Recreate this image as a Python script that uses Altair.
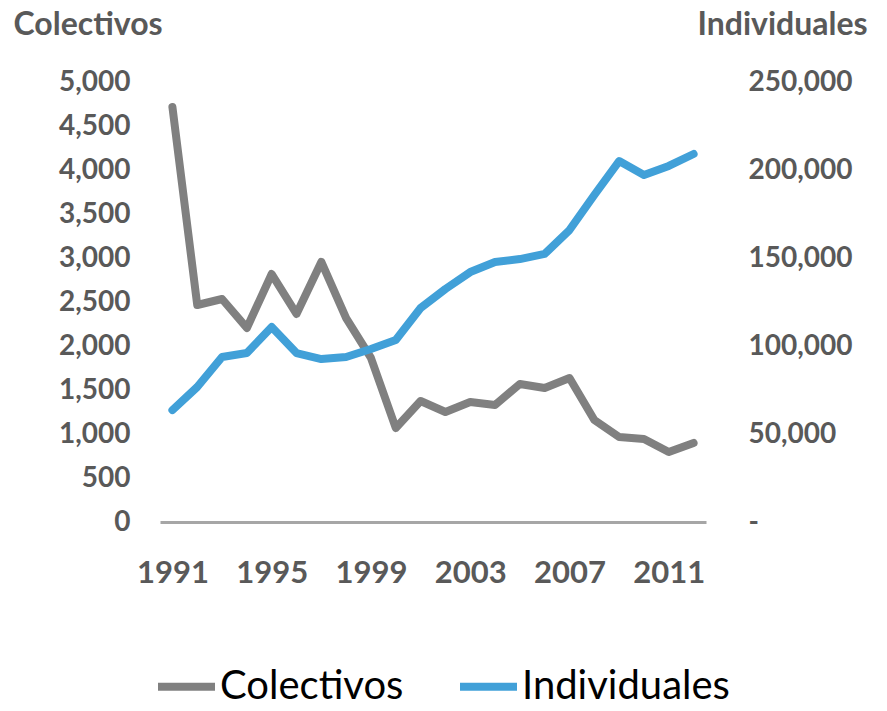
import altair as alt
import pandas as pd

years = list(range(1991, 2013))
colectivos = [4716, 2466, 2534, 2205, 2818, 2364, 2955, 2318, 1864, 1068, 1375,
              1250, 1364, 1330, 1568, 1523, 1636, 1159, 966, 943, 795, 898]
individuales = [63600, 76700, 93750, 96000, 110800, 96000, 92600, 93750, 98300,
                103400, 121600, 132400, 142000, 147700, 149400, 152300, 165900,
                185800, 205100, 197200, 202300, 209100]
series_names = ["Colectivos", "Individuales"]
series_colors = ["#808080", "#41A0D8"]
x_ticks = [1991, 1995, 1999, 2003, 2007, 2011]
left_ticks = list(range(0, 5001, 500))
right_ticks = list(range(0, 250001, 50000))

df = pd.DataFrame({
    "year": years * 2,
    "serie": ["Colectivos"] * len(years) + ["Individuales"] * len(years),
    "value": colectivos + individuales,
})

FONT = "Lato"
GREY = "#595959"

color = alt.Color(
    "serie:N",
    scale=alt.Scale(domain=series_names, range=series_colors),
    legend=alt.Legend(
        title=None, orient="none", direction="horizontal",
        legendX=-6, legendY=572,
        symbolType="stroke", symbolSize=3249, symbolStrokeWidth=8,
        labelFont=FONT, labelFontSize=40, labelColor="black",
        labelLimit=0, labelOffset=1, columnPadding=40, symbolOffset=0,
        padding=0,
    ),
)

x = alt.X(
    "year:Q",
    scale=alt.Scale(domain=[1990.5, 2012.5], nice=False, zero=False),
    axis=alt.Axis(
        values=x_ticks, format="d", title=None, grid=False, ticks=False,
        domainColor="#A6A6A6", domainWidth=3,
        labelFont=FONT, labelFontSize=31, labelFontWeight="bold",
        labelColor=GREY, labelPadding=60, labelBaseline="alphabetic",
        labelFlush=False, labelOverlap=False,
    ),
)

base = alt.Chart(df).mark_line(strokeWidth=8, strokeCap="round", strokeJoin="round")

left = base.transform_filter(alt.datum.serie == "Colectivos").encode(
    x=x,
    y=alt.Y(
        "value:Q",
        scale=alt.Scale(domain=[0, 5000], nice=False),
        axis=alt.Axis(
            orient="left", values=left_ticks, format=",d", grid=False,
            ticks=False, domain=False,
            labelFont=FONT, labelFontSize=28, labelFontWeight="bold",
            labelColor=GREY, labelPadding=30,
            title="Colectivos", titleAngle=0, titleAlign="left",
            titleBaseline="alphabetic", titleX=-147, titleY=-48,
            titleFont=FONT, titleFontSize=32, titleFontWeight="bold",
            titleColor=GREY,
        ),
    ),
    color=color,
)

right = base.transform_filter(alt.datum.serie == "Individuales").encode(
    x=x,
    y=alt.Y(
        "value:Q",
        scale=alt.Scale(domain=[0, 250000], nice=False),
        axis=alt.Axis(
            orient="right", values=right_ticks,
            labelExpr="datum.value == 0 ? '-' : format(datum.value, ',')",
            grid=False, ticks=False, domain=False,
            labelFont=FONT, labelFontSize=28, labelFontWeight="bold",
            labelColor=GREY, labelPadding=42, labelAlign="left",
            title="Individuales", titleAngle=0, titleAlign="left",
            titleBaseline="alphabetic", titleX=-9, titleY=-48,
            titleFont=FONT, titleFontSize=32, titleFontWeight="bold",
            titleColor=GREY,
        ),
    ),
    color=color,
)

chart = (
    alt.layer(left, right)
    .resolve_scale(y="independent", color="shared")
    .properties(
        width=546, height=440,
        background="white",
        autosize=alt.AutoSizeParams(type="none"),
        padding={"left": 152, "top": 74, "right": 173, "bottom": 181},
    )
    .configure_view(strokeWidth=0, stroke="transparent")
)

chart.save("out.html", embed_options={"renderer": "svg", "actions": False})
